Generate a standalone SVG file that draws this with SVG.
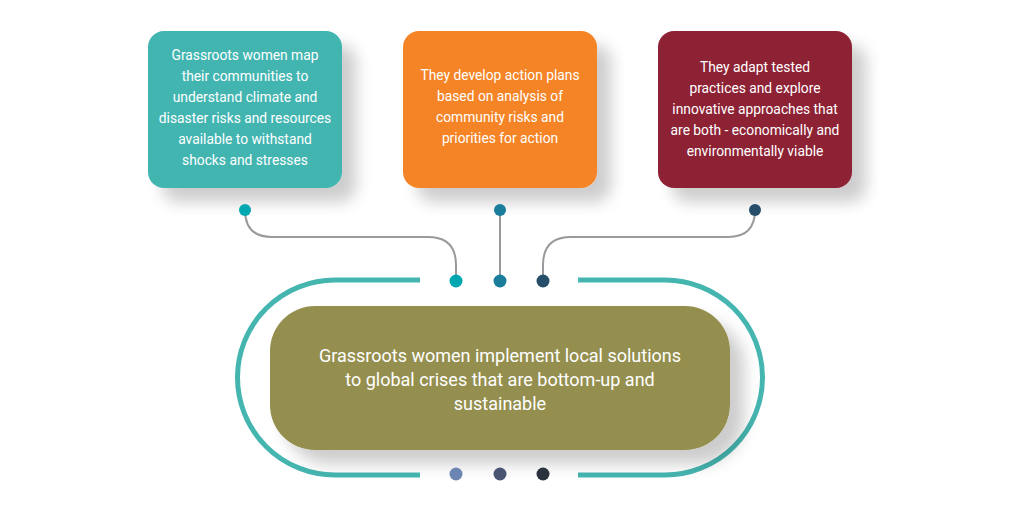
<svg xmlns="http://www.w3.org/2000/svg" width="1024" height="512" viewBox="0 0 1024 512">
<defs>
<filter id="sh" x="-20%" y="-20%" width="160%" height="170%"><feGaussianBlur in="SourceAlpha" stdDeviation="8"/><feOffset dx="14" dy="14"/><feComponentTransfer><feFuncA type="linear" slope="0.2"/></feComponentTransfer><feMerge><feMergeNode/><feMergeNode in="SourceGraphic"/></feMerge></filter>
</defs>
<style>
.t{font-family:Roboto,"Liberation Sans",sans-serif;font-size:13.8px;fill:#fff;text-anchor:middle}
.m{font-family:Roboto,"Liberation Sans",sans-serif;font-size:18px;fill:#fff;text-anchor:middle}
.c{fill:none;stroke:#9a9a9e;stroke-width:2}
.r{fill:none;stroke:#45b5b0;stroke-width:5}
</style>
<rect width="1024" height="512" fill="#fff"/>
<g id="ring">
<path class="r" d="M420 280 H335 A97.5 97.5 0 0 0 335 475 H420"/>
<path class="r" d="M578 280 H665 A97.5 97.5 0 0 1 665 475 H578"/>
</g>
<g id="connectors">
<path class="c" d="M245 210 Q245 237 272 237 H428 Q456 237 456 265 V281"/>
<path class="c" d="M500 210 V281"/>
<path class="c" d="M755 210 Q755 237 728 237 H571 Q543 237 543 265 V281"/>
</g>
<g id="node1"><rect x="148" y="31" width="194" height="157" rx="16" fill="#43b5b1" filter="url(#sh)"/>
<text class="t"><tspan x="245" y="60">Grassroots women map</tspan><tspan x="245" y="81">their communities to</tspan><tspan x="245" y="102">understand climate and</tspan><tspan x="245" y="123">disaster risks and resources</tspan><tspan x="245" y="144">available to withstand</tspan><tspan x="245" y="165">shocks and stresses</tspan></text></g>
<g id="node2"><rect x="403" y="31" width="194" height="157" rx="16" fill="#f58426" filter="url(#sh)"/>
<text class="t"><tspan x="500" y="80">They develop action plans</tspan><tspan x="500" y="101">based on analysis of</tspan><tspan x="500" y="122">community risks and</tspan><tspan x="500" y="143">priorities for action</tspan></text></g>
<g id="node3"><rect x="658" y="31" width="194" height="157" rx="16" fill="#8e2035" filter="url(#sh)"/>
<text class="t"><tspan x="755" y="72">They adapt tested</tspan><tspan x="755" y="93">practices and explore</tspan><tspan x="755" y="114">innovative approaches that</tspan><tspan x="755" y="135">are both - economically and</tspan><tspan x="755" y="156">environmentally viable</tspan></text></g>
<g id="center"><rect x="270" y="306" width="460" height="144" rx="45" fill="#958f50" filter="url(#sh)"/>
<text class="m"><tspan x="500" y="362">Grassroots women implement local solutions</tspan><tspan x="500" y="386">to global crises that are bottom-up and</tspan><tspan x="500" y="410">sustainable</tspan></text></g>
<g id="dots">
<circle cx="245" cy="210" r="6" fill="#00a7b0"/>
<circle cx="500" cy="210" r="6" fill="#1a7d9b"/>
<circle cx="755" cy="210" r="6" fill="#274e69"/>
<circle cx="456" cy="281" r="6.5" fill="#00a7b0"/>
<circle cx="500" cy="281" r="6.5" fill="#1a7d9b"/>
<circle cx="543" cy="281" r="6.5" fill="#274e69"/>
<circle cx="456" cy="474" r="6.5" fill="#6b86b3"/>
<circle cx="500" cy="474" r="6.5" fill="#4a5573"/>
<circle cx="543" cy="474" r="6.5" fill="#2a323d"/>
</g>
</svg>
